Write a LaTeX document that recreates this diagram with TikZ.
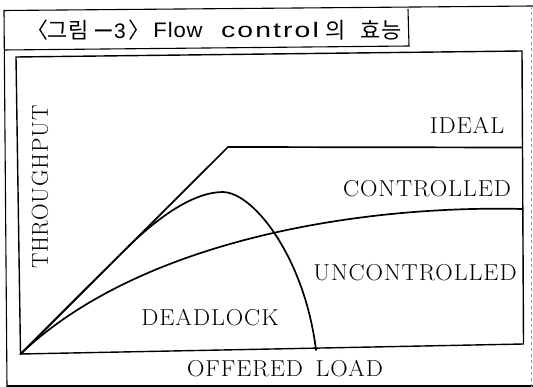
\documentclass[tikz,border=0pt]{standalone}
\usepackage{fontspec}
\newfontfamily\cjkfont{Noto Sans CJK KR}
\newfontfamily\sansfont{Liberation Sans}
\newfontfamily\flowfont[FakeStretch=1.05,LetterSpace=4]{Liberation Sans}
\newfontfamily\ctrlfont[FakeStretch=1.35,LetterSpace=10]{Liberation Sans}
\newfontfamily\lblfont[FakeStretch=1.05,LetterSpace=4]{Latin Modern Roman}
\newfontfamily\axisfont[LetterSpace=3]{Latin Modern Roman}
\begin{document}
\begin{tikzpicture}[x=1pt,y=-1pt,
  curve/.style={line width=1.7pt, line join=round, line cap=round},
  plotframe/.style={line width=1.4pt, line join=miter},
  outerframe/.style={line width=1.1pt},
  lbl/.style={inner sep=0pt, font=\lblfont\fontsize{23}{23}\selectfont},
  captxt/.style={inner sep=0pt, anchor=base},
  capk/.style={captxt, font=\cjkfont\fontsize{22}{22}\selectfont},
  capl/.style={captxt, font=\fontsize{21}{21}\selectfont}]
\useasboundingbox (0,0) rectangle (533,387);
\clip (0,0) rectangle (533,387);

% outer frame and caption box
\coordinate (oTL) at (4,10.5);
\coordinate (oTR) at (533,6);
\coordinate (oBL) at (7,387);
\coordinate (oBR) at (533,386);
\coordinate (tTR) at (408,9);
\coordinate (tBR) at (409,46);
\coordinate (tBL) at (4,50);
\draw[outerframe] (oTR) -- (oTL) -- (oBL);
\draw[outerframe] (7,386) -- (oBR);
\draw[outerframe, black!45, dashed] (531.5,6) -- (531.5,387);
\draw[outerframe] (tTR) -- (tBR) -- (tBL);

% caption
\node[capk] (capA) at (37,38.5) {〈};
\node[capk] (capB) at (68,38.5) {그림};
\node[capl, font=\sansfont\fontsize{30}{30}\selectfont] (capC) at (103.5,39) {–};
\node[capl, font=\sansfont\fontsize{21}{21}\selectfont] (capD) at (120,38.5) {3};
\node[capk] (capE) at (139,38.5) {〉};
\node[capl, font=\flowfont\fontsize{21}{21}\selectfont] (capF) at (178,38) {Flow};
\node[capl, font=\ctrlfont\fontsize{21}{21}\selectfont] (capG) at (270,38) {control};
\node[capk] (capH) at (336,38.5) {의};
\node[capk] (capI) at (381,38.5) {효능};

% plot frame
\coordinate (O)  at (20.5,354);
\coordinate (pTL) at (16,57);
\coordinate (pTR) at (522,51);
\coordinate (pBR) at (523.5,344);
\draw[plotframe] (O) -- (pTL) -- (pTR) -- (pBR) -- cycle;

% curves
\coordinate (knee) at (228,147);
\coordinate (idealEnd) at (522,147.5);
\coordinate (ctrlEnd) at (522,209);
\coordinate (split) at (125,249.8);
\coordinate (peak) at (223,192);
\coordinate (dead) at (316,350);
\draw[curve] (O) -- (knee) -- (idealEnd);
\draw[curve] (O) .. controls (140,240) and (360,205) .. (ctrlEnd);
\draw[curve] (O) -- (split) .. controls (160,214.8) and (195,192) .. (peak)
             .. controls (255,193) and (305,260) .. (dead);

% labels
\node[lbl, font=\axisfont\fontsize{23}{23}\selectfont, rotate=90] (thr) at (40,187) {THROUGHPUT};
\node[lbl] (ideal) at (467,125) {IDEAL};
\node[lbl] (ctrl) at (427,189) {CONTROLLED};
\node[lbl] (unctrl) at (415,273) {UNCONTROLLED};
\node[lbl] (dlock) at (210,318) {DEADLOCK};
\node[lbl] (load) at (285,369) {OFFERED\hspace{0.55em}LOAD};
\end{tikzpicture}
\end{document}
